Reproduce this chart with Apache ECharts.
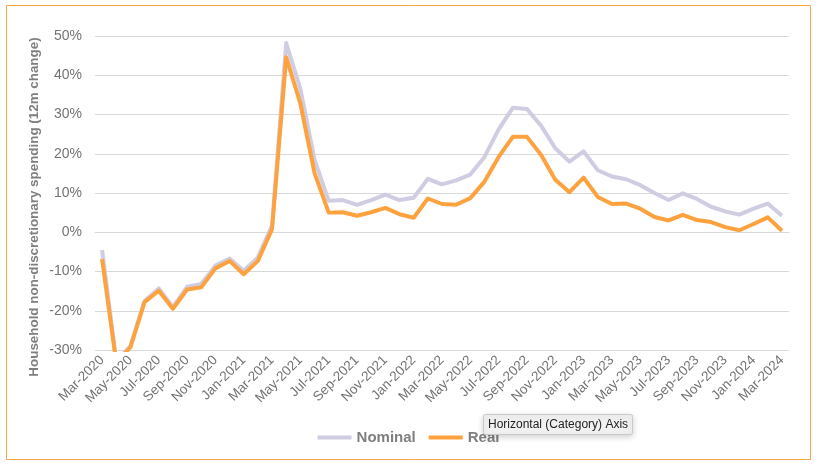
<!DOCTYPE html>
<html>
<head>
<meta charset="utf-8">
<script src="https://cdn.jsdelivr.net/npm/echarts@6/dist/echarts.min.js"></script>
<style>
html,body{margin:0;padding:0;background:#fff;}
#chart{width:817px;height:469px;}
</style>
</head>
<body>
<div id="chart"></div>
<script>
const categories = [
  "Mar-2020","Apr-2020","May-2020","Jun-2020","Jul-2020","Aug-2020","Sep-2020","Oct-2020","Nov-2020","Dec-2020",
  "Jan-2021","Feb-2021","Mar-2021","Apr-2021","May-2021","Jun-2021","Jul-2021","Aug-2021","Sep-2021","Oct-2021","Nov-2021","Dec-2021",
  "Jan-2022","Feb-2022","Mar-2022","Apr-2022","May-2022","Jun-2022","Jul-2022","Aug-2022","Sep-2022","Oct-2022","Nov-2022","Dec-2022",
  "Jan-2023","Feb-2023","Mar-2023","Apr-2023","May-2023","Jun-2023","Jul-2023","Aug-2023","Sep-2023","Oct-2023","Nov-2023","Dec-2023",
  "Jan-2024","Feb-2024","Mar-2024"
];
const nominal = [
  -4.5, -32.8, -29.0, -17.5, -14.3, -19.1, -13.9, -13.2, -8.5, -6.7,
  -9.8, -6.4, 1.7, 48.2, 36.5, 18.5, 8.0, 8.2, 7.0, 8.2, 9.6, 8.2,
  8.8, 13.6, 12.2, 13.2, 14.7, 19.2, 26.2, 31.7, 31.4, 27.1, 21.4, 18.0,
  20.6, 15.8, 14.2, 13.5, 12.0, 10.0, 8.2, 9.9, 8.5, 6.5, 5.3, 4.5,
  6.0, 7.3, 4.2
];
const real = [
  -6.8, -33.2, -29.3, -17.8, -14.9, -19.5, -14.6, -14.0, -9.2, -7.3,
  -10.7, -7.3, 0.8, 44.6, 32.8, 15.1, 5.0, 5.1, 4.2, 5.1, 6.2, 4.6,
  3.7, 8.6, 7.2, 7.0, 8.7, 12.9, 19.2, 24.3, 24.3, 19.7, 13.4, 10.2,
  13.9, 9.0, 7.2, 7.3, 6.0, 3.9, 3.0, 4.4, 3.1, 2.6, 1.3, 0.5,
  2.1, 3.8, 0.4
];
const yTicks = { min: -30, max: 50, interval: 10 };
const yTitle = "Household non-discretionary spending (12m change)";
const seriesNames = ["Nominal", "Real"];

const FONT = '"Liberation Sans", Arial, Helvetica, sans-serif';
const chart = echarts.init(document.getElementById('chart'), null, {renderer: 'canvas'});
chart.setOption({
  backgroundColor: '#ffffff',
  animation: false,
  color: ['#d0cce2', '#fda23e'],
  grid: { left: 95, right: 28, top: 36, bottom: 119, containLabel: false },
  legend: {
    data: seriesNames,
    left: 'center',
    top: 430,
    padding: 0,
    itemGap: 13,
    itemWidth: 34,
    itemHeight: 4,
    icon: 'rect',
    textStyle: { color: '#7f7f7f', fontSize: 15, fontWeight: 'bold', fontFamily: FONT }
  },
  xAxis: {
    type: 'category',
    data: categories,
    boundaryGap: true,
    axisLine: { show: true, lineStyle: { color: '#d9d9d9', width: 1 } },
    axisTick: { show: false },
    axisLabel: {
      interval: 1,
      rotate: 45,
      margin: 8,
      color: '#737373',
      fontSize: 13.5,
      fontFamily: FONT
    },
    splitLine: { show: false }
  },
  yAxis: {
    type: 'value',
    min: yTicks.min,
    max: yTicks.max,
    interval: yTicks.interval,
    axisLine: { show: false },
    axisTick: { show: false },
    axisLabel: {
      formatter: '{value}%',
      margin: 13,
      color: '#737373',
      fontSize: 14,
      fontFamily: FONT
    },
    splitLine: { show: true, lineStyle: { color: '#d9d9d9', width: 1 } }
  },
  series: [
    {
      name: seriesNames[0],
      type: 'line',
      data: nominal,
      showSymbol: false,
      symbol: 'none',
      clip: true,
      lineStyle: { width: 4, color: '#d0cce2', join: 'round' },
      z: 2
    },
    {
      name: seriesNames[1],
      type: 'line',
      data: real,
      showSymbol: false,
      symbol: 'none',
      clip: true,
      lineStyle: { width: 4, color: '#fda23e', join: 'round' },
      z: 3
    }
  ],
  graphic: [
    {
      type: 'rect',
      shape: { x: 6.5, y: 5.5, width: 804, height: 454 },
      style: { fill: 'none', stroke: '#f6a643', lineWidth: 1 },
      silent: true,
      z: 1
    },
    {
      type: 'text',
      x: 34,
      y: 207,
      rotation: Math.PI / 2,
      style: {
        text: yTitle,
        x: 0, y: 0,
        textAlign: 'center',
        textVerticalAlign: 'middle',
        fill: '#7f7f7f',
        font: 'bold 13.4px ' + FONT
      },
      silent: true
    },
    {
      type: 'group',
      x: 483,
      y: 414,
      z: 100,
      children: [
        {
          type: 'rect',
          shape: { x: 0.5, y: 0.5, width: 149, height: 20, r: 2 },
          style: {
            fill: '#f1f1f1',
            stroke: '#c9c9c9',
            lineWidth: 1,
            shadowBlur: 6,
            shadowColor: 'rgba(0,0,0,0.18)',
            shadowOffsetY: 2
          },
          z: 100
        },
        {
          type: 'text',
          style: {
            text: 'Horizontal (Category) Axis',
            x: 5, y: 11,
            textVerticalAlign: 'middle',
            fill: '#222222',
            font: '12px ' + FONT
          },
          z: 101
        }
      ]
    }
  ]
});
</script>
</body>
</html>
